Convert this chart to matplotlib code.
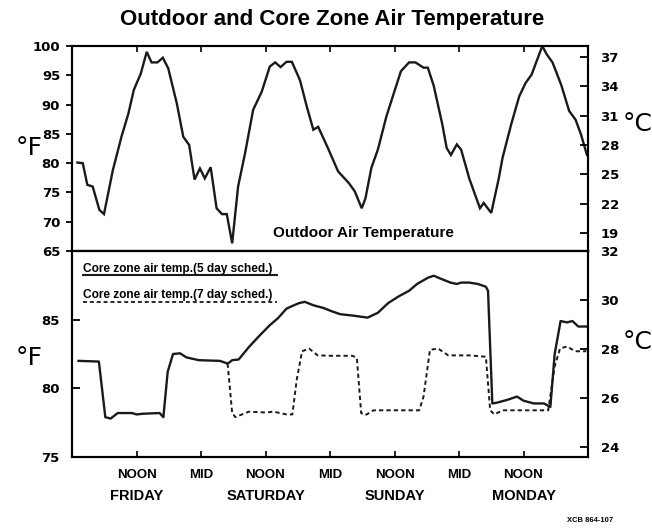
import matplotlib
matplotlib.use('Agg')
import matplotlib.pyplot as plt

# ---------------- data (hours from Friday 00:00) ----------------
hours_out = [1.0, 2.0, 2.85, 3.85, 5.1, 5.95, 7.6, 9.2, 10.5, 11.5, 12.8, 13.9, 14.8, 15.9,
             16.9, 17.9, 19.5, 20.7, 21.8, 22.8, 23.8, 24.7, 25.8, 26.9, 27.9, 28.8, 29.8,
             30.9, 32.2, 33.7, 35.3, 36.8, 37.8, 38.8, 39.9, 40.9, 42.4, 43.7, 44.9, 45.8,
             47.6, 49.5, 51.5, 52.6, 53.9, 54.6, 55.7, 56.9, 58.5, 60.0, 61.2, 62.7, 63.9,
             65.4, 66.2, 67.3, 68.9, 69.7, 70.5, 71.6, 72.4, 73.9, 75.9, 76.6, 78.0, 79.4,
             80.1, 81.7, 83.2, 84.4, 85.5, 87.5, 88.3, 89.4, 91.0, 92.5, 93.7, 94.7, 95.8]
temp_out = [80.1, 80.0, 76.3, 76.0, 72.0, 71.3, 78.8, 84.5, 88.5, 92.5, 95.3, 99.0, 97.2, 97.2,
            98.0, 96.2, 90.2, 84.5, 83.1, 77.2, 79.1, 77.4, 79.3, 72.3, 71.3, 71.3, 66.3,
            76.0, 81.7, 89.1, 92.2, 96.5, 97.2, 96.4, 97.3, 97.3, 94.2, 89.6, 85.7, 86.2,
            82.6, 78.6, 76.6, 75.2, 72.3, 74.0, 79.2, 82.3, 88.0, 92.3, 95.7, 97.2, 97.2,
            96.3, 96.3, 93.2, 86.6, 82.6, 81.4, 83.2, 82.3, 77.4, 72.3, 73.2, 71.5, 77.4,
            80.9, 86.6, 91.4, 93.7, 95.1, 100.0, 98.6, 97.2, 93.4, 88.9, 87.4, 84.9, 81.4]

hours_5day = [1.2, 5.0, 6.2, 7.2, 8.5, 11.2, 12.0, 13.2, 16.3, 17.0, 17.8, 18.8, 20.1, 21.3,
              23.6, 27.5, 29.0, 29.8, 31.0, 32.9, 34.8, 36.8, 38.3, 39.9, 41.0, 42.2, 43.3,
              44.9, 46.8, 48.4, 49.9, 52.2, 55.0, 56.9, 58.8, 60.8, 62.7, 64.2, 66.2, 67.3,
              68.5, 70.4, 71.6, 72.4, 73.9, 75.5, 77.0, 77.4, 78.2, 79.0, 80.9, 82.8, 84.0,
              85.9, 87.8, 89.0, 89.8, 90.9, 92.1, 93.1, 94.2, 95.7]
temp_5day = [82.0, 81.95, 77.9, 77.8, 78.2, 78.2, 78.1, 78.15, 78.2, 77.9, 81.2, 82.5, 82.55, 82.25,
             82.05, 82.0, 81.8, 82.05, 82.1, 83.0, 83.8, 84.6, 85.1, 85.8, 86.0, 86.2, 86.3,
             86.05, 85.85, 85.6, 85.4, 85.3, 85.15, 85.5, 86.2, 86.7, 87.1, 87.6, 88.05, 88.2,
             88.0, 87.7, 87.6, 87.7, 87.7, 87.6, 87.4, 87.1, 78.9, 78.95, 79.15, 79.4, 79.1,
             78.9, 78.9, 78.65, 82.5, 84.9, 84.8, 84.9, 84.5, 84.5]

hours_7day = [28.9, 29.0, 29.8, 30.4, 31.3, 32.9, 36.0, 37.5, 39.9, 41.0, 41.8, 42.8, 44.1,
              45.7, 48.4, 52.2, 53.0, 53.8, 54.6, 56.1, 59.2, 64.6, 65.4, 66.6, 68.1, 70.0,
              73.9, 77.0, 77.8, 78.6, 80.1, 85.5, 88.6, 89.8, 90.8, 92.1, 93.6, 95.7]
temp_7day = [81.8, 81.6, 78.2, 77.9, 78.05, 78.3, 78.24, 78.3, 78.1, 78.1, 80.6, 82.7, 82.9,
             82.4, 82.37, 82.37, 82.2, 78.2, 78.05, 78.4, 78.4, 78.4, 79.4, 82.8, 82.9, 82.4,
             82.4, 82.3, 78.4, 78.1, 78.4, 78.4, 78.4, 81.6, 82.9, 83.05, 82.7, 82.7]

xtick_hours = [12, 24, 36, 48, 60, 72, 84]
xtick_labels = ['NOON', 'MID', 'NOON', 'MID', 'NOON', 'MID', 'NOON']
day_hours = [12, 36, 60, 84]
day_labels = ['FRIDAY', 'SATURDAY', 'SUNDAY', 'MONDAY']
top_f_ticks = [65, 70, 75, 80, 85, 90, 95, 100]
top_c_ticks = [19, 22, 25, 28, 31, 34, 37]
bot_f_ticks = [75, 80, 85]
bot_c_ticks = [24, 26, 28, 30, 32]

# ---------------- style ----------------
NUMFONT = 'DejaVu Sans'
TXTFONT = ['Liberation Sans', 'DejaVu Sans']
plt.rcParams['font.family'] = TXTFONT
plt.rcParams['axes.linewidth'] = 1.5

W, H = 652, 529
fig = plt.figure(figsize=(W / 100, H / 100), dpi=100)

def frac(l, t, r, b):
    return [l / W, 1 - b / H, (r - l) / W, (b - t) / H]

ax1 = fig.add_axes(frac(72, 46, 588, 251))
ax2 = fig.add_axes(frac(72, 251, 588, 457), sharex=ax1)

# top panel
ax1.plot(hours_out, temp_out, color='#1a1a1a', lw=1.7, solid_joinstyle='miter')
ax1.set_xlim(0, 96)
ax1.set_ylim(65, 100)
ax1.set_yticks(top_f_ticks)
ax1.set_yticklabels([str(v) for v in top_f_ticks], fontfamily=NUMFONT,
                    fontweight='bold', fontsize=9.5)
ax1.tick_params(axis='y', direction='out', length=4.5, width=1.3, pad=4)
ax1.tick_params(axis='x', which='both', bottom=False, top=True, direction='in',
                length=4, width=1.2, labelbottom=False, labeltop=False)
ax1.set_xticks(xtick_hours)
ax1.text(0.565, 0.09, 'Outdoor Air Temperature', transform=ax1.transAxes,
         ha='center', va='center', fontsize=11, fontweight='bold')

ax1r = ax1.twinx()
ax1r.set_ylim(17.16, 38.12)
ax1r.set_yticks(top_c_ticks)
ax1r.set_yticklabels([str(v) for v in top_c_ticks], fontfamily=NUMFONT,
                     fontweight='bold', fontsize=9.5)
ax1r.tick_params(axis='y', direction='in', length=6, width=1.3, pad=9)

# bottom panel
ax2.plot(hours_7day, temp_7day, color='#1a1a1a', lw=1.4, linestyle=(0, (2.2, 1.6)))
ax2.plot(hours_5day, temp_5day, color='#1a1a1a', lw=1.7)
ax2.set_ylim(75, 90)
ax2.set_yticks(bot_f_ticks)
ax2.set_yticklabels([str(v) for v in bot_f_ticks], fontfamily=NUMFONT,
                    fontweight='bold', fontsize=9.5)
ax2.tick_params(axis='y', direction='in', length=6, width=1.3, pad=9)
ax2.set_xticks(xtick_hours)
ax2.set_xticklabels(xtick_labels, fontsize=9.5, fontweight='bold')
ax2.tick_params(axis='x', direction='in', length=4.5, width=1.2, pad=9)
xt = ax2.get_xaxis_transform()
for h, lab in zip(day_hours, day_labels):
    ax2.text(h, -0.19, lab, transform=xt, ha='center', va='center',
             fontsize=10.5, fontweight='bold')

ax2r = ax2.twinx()
ax2r.set_ylim(23.58, 32.0)
ax2r.set_yticks(bot_c_ticks)
ax2r.set_yticklabels([str(v) for v in bot_c_ticks], fontfamily=NUMFONT,
                     fontweight='bold', fontsize=9.5)
ax2r.tick_params(axis='y', direction='in', length=6, width=1.3, pad=9)

# legend-like labels with underline samples
ax2.text(0.021, 0.915, 'Core zone air temp.(5 day sched.)', transform=ax2.transAxes,
         ha='left', va='center', fontsize=8.6, fontweight='bold')
ax2.plot([0.021, 0.398], [0.885, 0.885], transform=ax2.transAxes, color='#1a1a1a', lw=1.5)
ax2.text(0.021, 0.788, 'Core zone air temp.(7 day sched.)', transform=ax2.transAxes,
         ha='left', va='center', fontsize=8.6, fontweight='bold')
ax2.plot([0.021, 0.398], [0.752, 0.752], transform=ax2.transAxes, color='#1a1a1a', lw=1.3,
         linestyle=(0, (2.2, 1.6)))

# unit labels
fig.text(29 / W, 1 - 148 / H, '°F', ha='center', va='center', fontsize=18, fontfamily='DejaVu Sans')
fig.text(29 / W, 1 - 358 / H, '°F', ha='center', va='center', fontsize=18, fontfamily='DejaVu Sans')
fig.text(638 / W, 1 - 124 / H, '°C', ha='center', va='center', fontsize=18, fontfamily='DejaVu Sans')
fig.text(638 / W, 1 - 342 / H, '°C', ha='center', va='center', fontsize=18, fontfamily='DejaVu Sans')

fig.text(332 / W, 1 - 20 / H, 'Outdoor and Core Zone Air Temperature', ha='center', va='center',
         fontsize=16, fontweight='bold')
fig.text(590 / W, 1 - 520 / H, 'XCB 864-107', ha='center', va='center', fontsize=5.5,
         fontweight='bold')

fig.savefig('out.png', dpi=100)
